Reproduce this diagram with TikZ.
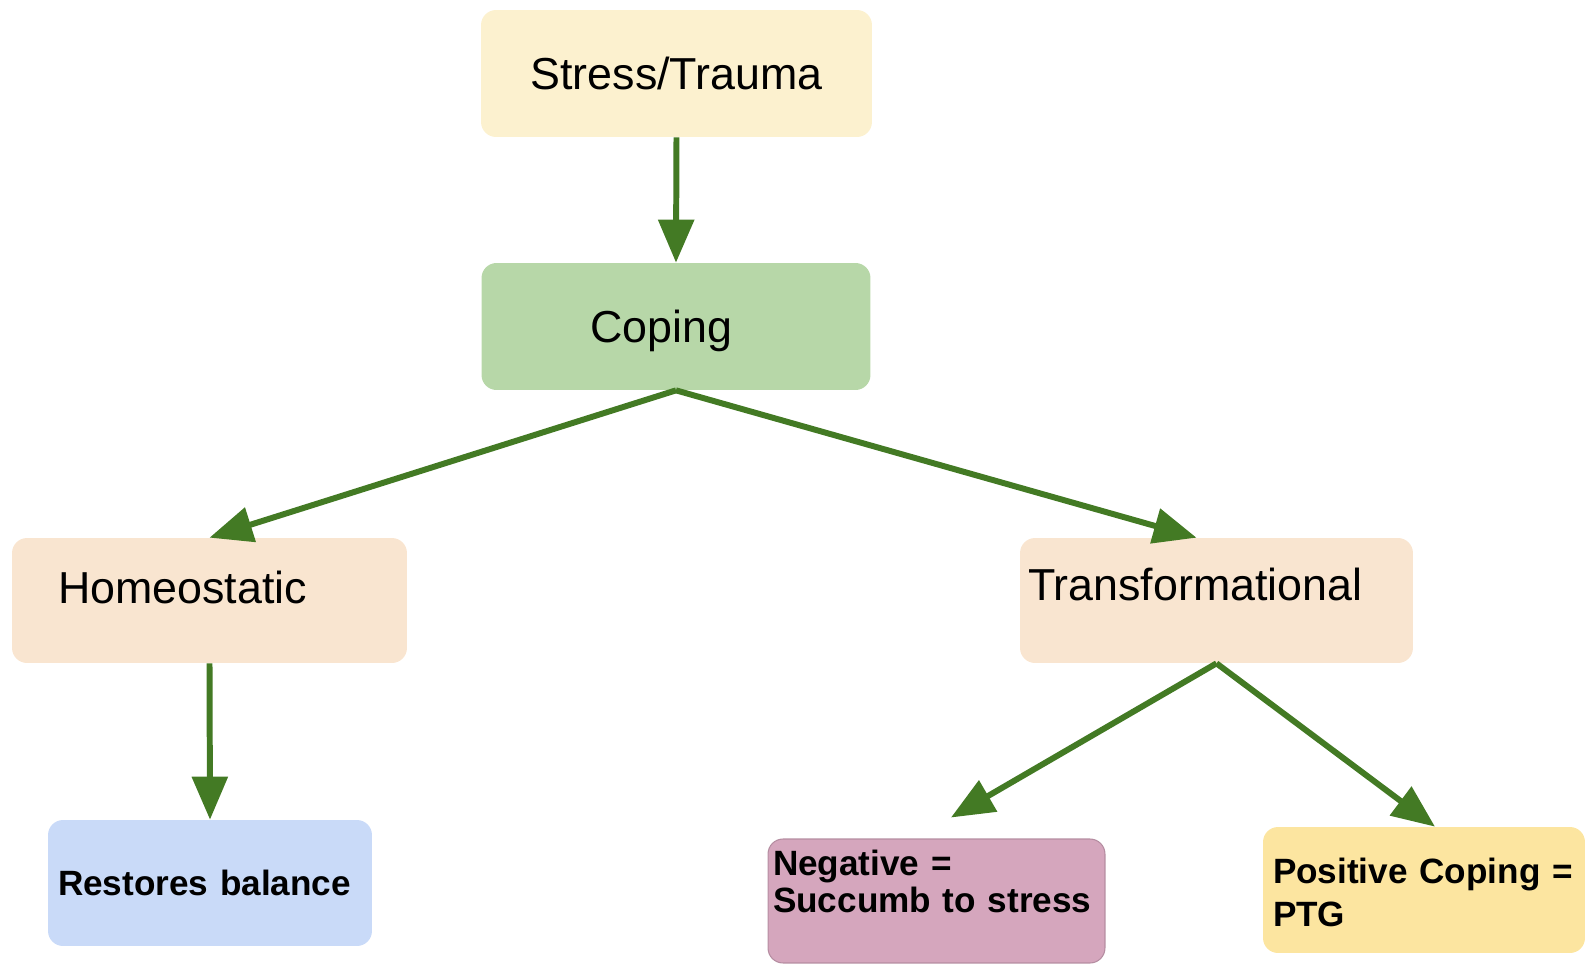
\documentclass[tikz,border=0pt]{standalone}
\usepackage{fontspec}
\setmainfont{Liberation Sans}
\usetikzlibrary{arrows.meta, positioning}
\definecolor{mCream}{HTML}{FCF1CF}
\definecolor{mSage}{HTML}{B7D7A8}
\definecolor{mPeach}{HTML}{F9E5D0}
\definecolor{mSky}{HTML}{C9DAF8}
\definecolor{mMauve}{HTML}{D5A6BD}
\definecolor{mButter}{HTML}{FCE5A0}
\definecolor{mArrow}{HTML}{437A24}

\begin{document}
\begin{tikzpicture}[x=0.02cm, y=-0.02cm,
    box/.style={rounded corners=0.3cm, inner sep=0pt, font=\fontsize{25.5}{30}\selectfont},
    boldbox/.style={rounded corners=0.3cm, inner ysep=0pt, align=left, font=\fontsize{20}{21}\selectfont\bfseries},
    link/.style={-{Triangle[length=0.86cm, width=0.7cm]}, line width=3.4pt, draw=mArrow}]
    \useasboundingbox (0,0) rectangle (1587,964);
    \node[box, fill=mCream, minimum width=7.82cm, minimum height=2.54cm, text height=0.64cm, text depth=0cm] (stress) at (676.5,73.5) {Stress/Trauma};
    \node[box, fill=mSage, align=left, text width=3.42cm, inner xsep=2.18cm, minimum height=2.54cm, text height=0.64cm, text depth=0cm] (coping) at (676,326.5) {Coping};
    \node[box, fill=mPeach, align=left, text width=6.06cm, inner xsep=0.92cm, minimum height=2.5cm, text height=0.64cm, text depth=0.54cm] (homeo) at (209.5,600.5) {Homeostatic};
    \node[box, fill=mPeach, align=left, text width=7.54cm, inner xsep=0.16cm, minimum height=2.5cm, text height=0.64cm, text depth=0.66cm] (trans) at (1216.5,600.5) {Transformational};
    \node[boldbox, fill=mSky, text width=6.08cm, inner xsep=0.2cm, minimum height=2.52cm, text height=0.5cm, text depth=0cm] (restore) at (210,883) {Restores balance};
    \node[boldbox, fill=mMauve, draw=mMauve!85!black, line width=0.6pt, text width=6.54cm, inner xsep=0.1cm, minimum height=2.48cm, text height=0.5cm, text depth=1.54cm, font=\fontsize{20}{21.5}\selectfont\bfseries] (neg) at (936.5,901) {Negative =\\Succumb to stress};
    \node[boldbox, fill=mButter, text width=6.04cm, inner xsep=0.2cm, minimum height=2.52cm, text height=0.5cm, text depth=0.78cm, font=\fontsize{20}{25}\selectfont\bfseries] (pos) at (1424,890) {Positive Coping =\\PTG};
    \draw[link] (stress.south) -- (coping.north);
    \draw[link] (coping.south) -- (homeo.north);
    \draw[link] (coping.south) -- ([xshift=-0.4cm]trans.north);
    \draw[link] (homeo.south) -- (restore.north);
    \draw[link] (trans.south) -- ([xshift=0.29cm, yshift=0.42cm]neg.north);
    \draw[link] (trans.south) -- ([xshift=0.22cm]pos.north);
\end{tikzpicture}
\end{document}
